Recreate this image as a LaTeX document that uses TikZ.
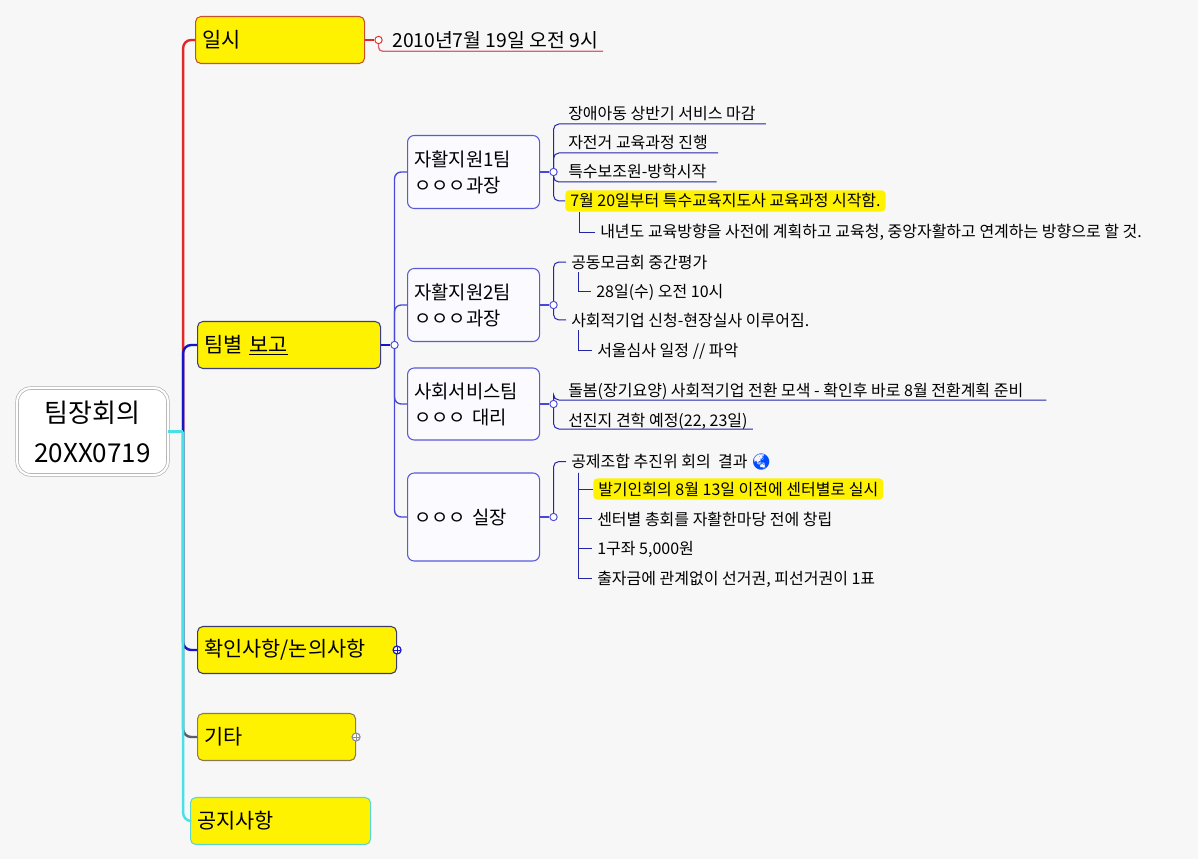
\documentclass[tikz,border=0pt]{standalone}
\usepackage{fontspec}
\setmainfont{Noto Sans CJK KR}
\newfontfamily\emojifont{Noto Emoji}
\usetikzlibrary{positioning}

\definecolor{bgcol}{HTML}{F7F7F7}
\definecolor{redline}{HTML}{E02828}
\definecolor{dateline}{HTML}{E06070}
\definecolor{blueline}{HTML}{1414C8}
\definecolor{subline}{HTML}{4848D4}
\definecolor{leafline}{HTML}{2424A8}
\definecolor{cyanline}{HTML}{48E0E8}
\definecolor{grayline}{HTML}{5C5C6C}
\definecolor{ilsiborder}{HTML}{C8502A}
\definecolor{teamborder}{HTML}{3C3C8C}
\definecolor{checkborder}{HTML}{3C3C6C}
\definecolor{etcborder}{HTML}{8C7A50}
\definecolor{noticeborder}{HTML}{58D8D0}
\definecolor{subborder}{HTML}{5A5AD8}
\definecolor{subfill}{HTML}{FAFAFF}

\tikzset{
  root/.style={draw=gray!65, double=white, double distance=1.6pt, line width=0.5pt,
    fill=white, rounded corners=10pt, minimum width=113pt, minimum height=65pt,
    align=center, font=\fontsize{19.5}{30}\selectfont},
  topic/.style={draw, rounded corners=4pt, fill=yellow, line width=0.8pt,
    minimum height=35.25pt, anchor=west, align=left, inner xsep=5pt,
    font=\fontsize{15.6}{18}\selectfont},
  subtopic/.style={draw=subborder, fill=subfill, rounded corners=5pt, line width=0.8pt,
    anchor=west, align=left, text width=89pt, inner xsep=5pt,
    font=\fontsize{14.1}{19.5}\selectfont},
  leaf/.style={anchor=base west, inner xsep=3.75pt, inner ysep=2pt,
    font=\fontsize{12}{14}\selectfont},
  hilite/.style={leaf, fill=yellow, rounded corners=3pt, inner ysep=2.5pt},
  dot/.style={circle, draw, fill=white, inner sep=0pt, minimum size=5.5pt, line width=0.7pt},
  plusdot/.style={dot, minimum size=6pt, line width=0.9pt, path picture={
    \draw[line width=0.6pt] ([xshift=1pt]path picture bounding box.west) -- ([xshift=-1pt]path picture bounding box.east)
      ([yshift=-1pt]path picture bounding box.north) -- ([yshift=1pt]path picture bounding box.south);}},
  mainline/.style={line width=1.8pt, rounded corners=6pt},
  subl/.style={subline, line width=1pt, rounded corners=5pt},
  leafl/.style={leafline, line width=0.75pt, rounded corners=4pt},
  elbow/.style={leafline, line width=0.75pt},
}

\begin{document}
\begin{tikzpicture}[x=0.75pt, y=-0.75pt]
  \fill[bgcol] (0,0) rectangle (1198,859);

  % centre and main topics
  \node[root] (root) at (92.5,431.5) {팀장회의\\20XX0719};
  \node[topic, draw=ilsiborder, text width=116.75pt] (ilsi) at (195,40) {일시};
  \node[topic, draw=teamborder, text width=127.25pt] (team) at (197,345) {팀별 \underline{보고}};
  \node[topic, draw=checkborder, text width=139.25pt] (check) at (197,650) {확인사항/논의사항};
  \node[topic, draw=etcborder, text width=108.5pt] (etc) at (197,737) {기타};
  \node[topic, draw=noticeborder, text width=125pt] (notice) at (190,821) {공지사항};

  \path (root.east) ++(15,0) coordinate (hub);
  \draw[mainline, redline] (hub) |- (ilsi.west);
  \draw[mainline, blueline] (hub) |- (team.west);
  \draw[mainline, blueline] (hub) |- (check.west);
  \draw[mainline, grayline] (hub) |- (etc.west);
  \draw[mainline, cyanline] (hub) |- (notice.west);
  \draw[mainline, cyanline] (root.east) -- (hub);

  \node[plusdot, draw=blueline] (checkdot) at (check.east) {};
  \node[plusdot, draw=grayline!70] (etcdot) at (etc.east) {};

  % date
  \node[dot, draw=redline, right=7pt of ilsi] (ilsidot) {};
  \draw[redline, line width=1pt] (ilsi) -- (ilsidot);
  \node[leaf, font=\fontsize{14.5}{16}\selectfont] (date) at (387,48) {2010년7월 19일 오전 9시};
  \draw[dateline, line width=1pt, rounded corners=3pt] (ilsidot.south) |- ([yshift=-2.4pt]date.base east);

  % team reports
  \node[dot, draw=subline, right=7pt of team] (teamdot) {};
  \draw[blueline, line width=1.5pt] (team) -- (teamdot);

  \node[subtopic, minimum height=54.75pt] (sub1) at (407,172) {자활지원1팀\\ㅇㅇㅇ과장};
  \node[subtopic, minimum height=54.75pt] (sub2) at (407,305) {자활지원2팀\\ㅇㅇㅇ과장};
  \node[subtopic, minimum height=54pt] (sub3) at (407,404) {사회서비스팀\\ㅇㅇㅇ 대리};
  \node[subtopic, minimum height=66pt] (sub4) at (407,517) {ㅇㅇㅇ 실장};

  \draw[subl] (teamdot.north) |- (sub1.west);
  \draw[subl] (teamdot.north) |- (sub2.west);
  \draw[subl] (teamdot.south) |- (sub3.west);
  \draw[subl] (teamdot.south) |- (sub4.west);

  \node[dot, draw=subline, right=7pt of sub1] (sub1dot) {};
  \node[dot, draw=subline, right=7pt of sub2] (sub2dot) {};
  \node[dot, draw=subline, right=7pt of sub3] (sub3dot) {};
  \node[dot, draw=subline, right=7pt of sub4] (sub4dot) {};
  \draw[subl] (sub1) -- (sub1dot);
  \draw[subl] (sub2) -- (sub2dot);
  \draw[subl] (sub3) -- (sub3dot);
  \draw[subl] (sub4) -- (sub4dot);

  % team 1
  \node[leaf] (l11) at (563,120) {장애아동 상반기 서비스 마감};
  \node[leaf] (l12) at (563,149) {자전거 교육과정 진행};
  \node[leaf] (l13) at (563,178) {특수보조원-방학시작};
  \node[hilite] (l14) at (565,207) {7월 20일부터 특수교육지도사 교육과정 시작함.};
  \node[leaf] (l15) at (595,238) {내년도 교육방향을 사전에 계획하고 교육청, 중앙자활하고 연계하는 방향으로 할 것.};
  \draw[leafl] (sub1dot.north) |- ([xshift=3.75pt, yshift=-3pt]l11.base east);
  \draw[leafl] (sub1dot.north) |- ([xshift=3.75pt, yshift=-3pt]l12.base east);
  \draw[leafl] (sub1dot.south) |- ([xshift=3.75pt, yshift=-3pt]l13.base east);
  \draw[leafl] (sub1dot.south) |- (l14.west);
  \draw[elbow] ([xshift=10.5pt]l14.south west) |- (l15.west);

  % team 2
  \node[leaf] (l21) at (566,268) {공동모금회 중간평가};
  \node[leaf] (l22) at (591,297) {28일(수) 오전 10시};
  \node[leaf] (l23) at (566,326) {사회적기업 신청-현장실사 이루어짐.};
  \node[leaf] (l24) at (592,356) {서울심사 일정 // 파악};
  \draw[leafl] (sub2dot.north) |- (l21.west);
  \draw[leafl] (sub2dot.south) |- (l23.west);
  \draw[elbow] ([xshift=9pt]l21.south west) |- (l22.west);
  \draw[elbow] ([xshift=9pt]l23.south west) |- (l24.west);

  % social service team
  \node[leaf] (l31) at (563,396) {돌봄(장기요양) 사회적기업 전환 모색 - 확인후 바로 8월 전환계획 준비};
  \node[leaf] (l32) at (563,426) {선진지 견학 예정(22, 23일)};
  \draw[leafl] (sub3dot.north) |- ([xshift=13.5pt, yshift=-3pt]l31.base east);
  \draw[leafl] (sub3dot.south) |- ([yshift=-2.25pt]l32.base east);

  % head
  \node[leaf] (l41) at (566,467) {공제조합 추진위 회의~~결과 {\emojifont\color{blue!70!cyan}🌏}};
  \node[hilite] (l42) at (593,495) {발기인회의 8월 13일 이전에 센터별로 실시};
  \node[leaf] (l43) at (592,525) {센터별 총회를 자활한마당 전에 창립};
  \node[leaf] (l44) at (592,554) {1구좌 5,000원};
  \node[leaf] (l45) at (592,584) {출자금에 관계없이 선거권, 피선거권이 1표};
  \draw[leafl] (sub4dot.north) |- (l41.west);
  \draw[elbow] ([xshift=9pt]l41.south west) |- (l42.west);
  \draw[elbow] ([xshift=9pt]l41.south west) |- (l43.west);
  \draw[elbow] ([xshift=9pt]l41.south west) |- (l44.west);
  \draw[elbow] ([xshift=9pt]l41.south west) |- (l45.west);
\end{tikzpicture}
\end{document}
